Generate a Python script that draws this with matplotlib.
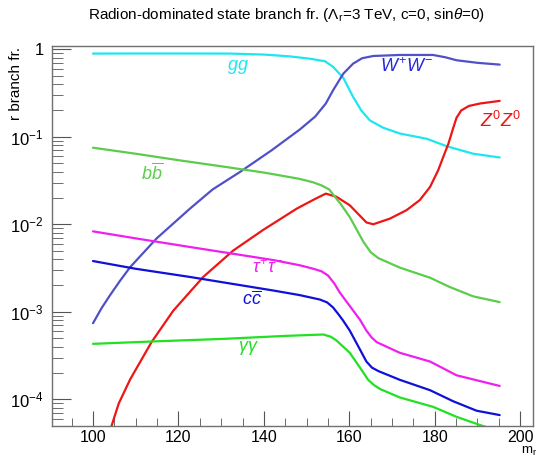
import math
import matplotlib
matplotlib.use("Agg")
import matplotlib.pyplot as plt
from matplotlib.ticker import FixedLocator, MultipleLocator, FuncFormatter, NullFormatter

plt.rcParams['font.family'] = ['Liberation Sans', 'DejaVu Sans']
plt.rcParams['mathtext.fontset'] = 'custom'
plt.rcParams['mathtext.rm'] = 'Liberation Sans'
plt.rcParams['mathtext.it'] = 'Liberation Sans:italic'
plt.rcParams['mathtext.bf'] = 'Liberation Sans:bold'

# radion branching fractions vs mass
gg_x = [100, 110, 120, 132, 140, 146, 150.8, 154.3, 156.2, 158.6, 160.9, 162.8, 164.8, 167.9, 171.8, 178.1, 182.8, 189.0, 195.2]
gg_y = [0.893, 0.895, 0.895, 0.893, 0.87, 0.83, 0.78, 0.73, 0.63, 0.47, 0.285, 0.2, 0.154, 0.127, 0.109, 0.095, 0.078, 0.064, 0.058]

ww_x = [100, 102, 104, 106.3, 108.7, 114.9, 122.7, 128, 134.4, 141.8, 148.4, 152, 154.5, 156.2, 158.6, 160.9, 163, 165.6,
        171.8, 179.6, 182.5, 185.1, 190, 195.2]
ww_y = [7.4e-4, 1.1e-3, 1.55e-3, 2.25e-3, 3.24e-3, 6.9e-3, 0.0151, 0.025, 0.0396, 0.070, 0.121, 0.17, 0.24, 0.34, 0.527,
        0.686, 0.79, 0.838, 0.861, 0.861, 0.81, 0.749, 0.70, 0.668]

zz_x = [104.0, 106, 108.7, 113.7, 118.8, 125.8, 132.8, 139.8, 147.7, 152, 154.5, 157.0, 160.1, 164.0, 165.6,
        169.5, 173.4, 176.5, 178.9, 180.8, 182.0, 183.2, 184.3, 185.1, 186.2, 188, 190.6, 195.2]
zz_y = [4.4e-5, 8.9e-5, 1.69e-4, 4.5e-4, 1.03e-3, 2.5e-3, 5.0e-3, 8.6e-3, 0.0151, 0.0195, 0.0224, 0.0206, 0.0165, 0.0105, 0.0100,
        0.0116, 0.0145, 0.0189, 0.0267, 0.0414, 0.059, 0.0834, 0.125, 0.165, 0.2, 0.225, 0.24, 0.257]

bb_x = [100, 110, 120, 130, 140, 148.4, 151.5, 153.5, 155.3, 156.5, 158, 160.1, 163.3, 165, 166.8, 171.8, 178.9, 183.5, 189.0, 195.2]
bb_y = [0.075, 0.064, 0.054, 0.046, 0.039, 0.033, 0.0302, 0.0278, 0.025, 0.021, 0.017, 0.0121, 0.0063, 0.0048, 0.0041,
        0.0032, 0.00245, 0.00192, 0.0015, 0.00129]

tau_x = [100, 110, 122.7, 142.2, 148.4, 151.6, 153.5, 155, 156.5, 157.8, 159.8, 162.5, 164.0, 165.2, 166.4, 171.8, 178.9, 185.1, 195.2]
tau_y = [8.3e-3, 6.9e-3, 5.5e-3, 3.9e-3, 3.4e-3, 3.1e-3, 2.9e-3, 2.6e-3, 2.1e-3, 1.65e-3, 1.22e-3, 8.1e-4, 6.1e-4, 5.1e-4, 4.5e-4,
         3.4e-4, 2.7e-4, 1.88e-4, 1.42e-4]

cc_x = [100, 110, 122.7, 142.2, 148.4, 153.1, 154.8, 156.2, 157.5, 158.5, 160.1, 162.5, 164.0, 165.3, 166.8, 171.8, 178.9, 184.3, 189.8, 195.2]
cc_y = [3.8e-3, 3.1e-3, 2.5e-3, 1.75e-3, 1.55e-3, 1.38e-3, 1.28e-3, 1.12e-3, 9.3e-4, 8.0e-4, 6.1e-4, 3.7e-4, 2.7e-4, 2.3e-4, 2.1e-4,
        1.67e-4, 1.27e-4, 9.5e-5, 7.4e-5, 6.6e-5]

aa_x = [100, 115, 130.5, 145, 153.9, 155.6, 157.0, 160.1, 162.5, 164.4, 165.8, 167.2, 171.8, 179.6, 185.1, 191.0, 195.2]
aa_y = [4.3e-4, 4.6e-4, 4.9e-4, 5.3e-4, 5.5e-4, 5.2e-4, 4.7e-4, 3.4e-4, 2.3e-4, 1.67e-4, 1.45e-4, 1.31e-4, 1.05e-4, 8.2e-5,
        6.3e-5, 5.0e-5, 4.3e-5]

curves = [
    (gg_x, gg_y, '#1ee6f0'),
    (ww_x, ww_y, '#5050c8'),
    (zz_x, zz_y, '#ee1515'),
    (bb_x, bb_y, '#5ccc4c'),
    (tau_x, tau_y, '#ee20ee'),
    (cc_x, cc_y, '#1010d8'),
    (aa_x, aa_y, '#22e022'),
]

labels = [
    (r'$gg$', 238, 67, '#1ee6f0'),
    (r'$W^{+}W^{-}$', 407, 67, '#2828d8'),
    (r'$Z^{0}Z^{0}$', 500, 121, '#ee1515'),
    (r'$b\overline{b}$', 152, 173, '#5ccc4c'),
    (r'$\tau^{+}\tau^{-}$', 268, 268, '#ee20ee'),
    (r'$c\overline{c}$', 252, 300, '#1010d8'),
    (r'$\gamma\gamma$', 248, 348, '#22e022'),
]

W, H = 540, 459
fig = plt.figure(figsize=(W / 100, H / 100), dpi=100)
ax = fig.add_axes([52 / W, 1 - 426 / H, (533 - 52) / W, (426 - 46) / H])

for xs, ys, col in curves:
    ax.plot(xs, ys, color=col, lw=1.6, solid_joinstyle='round', solid_capstyle='round')

ax.set_yscale('log')
ax.set_xlim(90.4, 203.0)
ax.set_ylim(4.95e-5, 1.09)

ax.xaxis.set_major_locator(MultipleLocator(20))
ax.xaxis.set_minor_locator(MultipleLocator(5))
ax.yaxis.set_major_locator(FixedLocator([1e-4, 1e-3, 1e-2, 1e-1, 1]))
minors = [m * 10.0 ** e for e in range(-5, 1) for m in range(2, 10)]
ax.yaxis.set_minor_locator(FixedLocator(minors))
ax.yaxis.set_minor_formatter(NullFormatter())


def ylab(v, pos):
    if v >= 0.99:
        return '1'
    return r'$10^{%d}$' % int(round(math.log10(v)))


ax.yaxis.set_major_formatter(FuncFormatter(ylab))

for s in ax.spines.values():
    s.set_color('#707070')
    s.set_linewidth(1.0)
ax.tick_params(which='both', direction='in', colors='#555555', labelcolor='black', labelsize=12,
               top=False, right=False)
ax.tick_params(axis='x', which='major', length=11, pad=3, labelsize=11.5)
ax.tick_params(axis='x', which='minor', length=6)
ax.tick_params(axis='y', which='major', length=14, pad=6)
ax.tick_params(axis='y', which='minor', length=8)

for txt, px, py, col in labels:
    fig.text(px / W, 1 - py / H, txt, color=col, fontsize=13, ha='center', va='center')

fig.text(287 / W, 1 - 15 / H, r'Radion-dominated state branch fr. ($\Lambda_{\rm r}$=3 TeV, c=0, sin$\theta$=0)',
         ha='center', va='center', fontsize=11)
fig.text(16 / W, 1 - 47 / H, 'r branch fr.', rotation=90, ha='center', va='top', fontsize=11)
fig.text(537 / W, 0.5 / H, r'm$_{\rm r}$', ha='right', va='bottom', fontsize=9.5)

fig.savefig('out.png', dpi=100)
